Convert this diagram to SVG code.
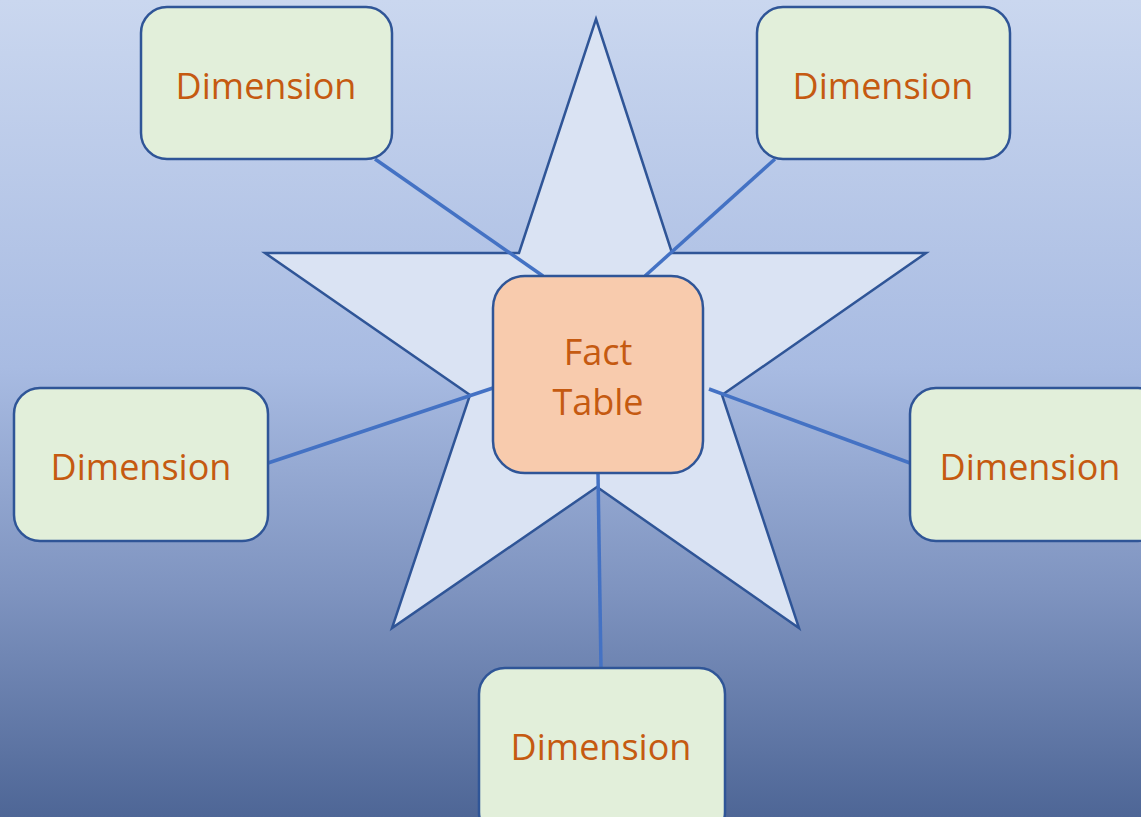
<svg xmlns="http://www.w3.org/2000/svg" width="1141" height="817" viewBox="0 0 1141 817">
<defs>
<linearGradient id="bg" x1="0" y1="0" x2="0" y2="1">
<stop offset="0" stop-color="#CAD7EF"/>
<stop offset="0.45" stop-color="#A8BBE2"/>
<stop offset="0.72" stop-color="#7F94C0"/>
<stop offset="1" stop-color="#4E6696"/>
</linearGradient>
<style>
.dim{fill:#E2EFDA;stroke:#2F5597;stroke-width:2.5}
.fact{fill:#F8CBAD;stroke:#2F5597;stroke-width:2.5}
.lbl{font-family:"Open Sans","Noto Sans",sans-serif;font-size:36px;fill:#C55A11;text-anchor:middle}
.con{stroke:#4472C4;stroke-width:3.5;fill:none}
.star{fill:#DAE3F3;stroke:#2F5597;stroke-width:2.5;stroke-linejoin:miter}
</style>
</defs>
<rect x="0" y="0" width="1141" height="817" fill="url(#bg)"/>
<g id="star">
<polygon class="star" points="596,19 672,253 926,253 722,395 799,628 597,487 392,628 470,395 265,253 519,253"/>
</g>
<g id="connectors">
<line class="con" x1="375" y1="159" x2="543" y2="276"/>
<line class="con" x1="775" y1="159" x2="645" y2="276"/>
<line class="con" x1="268" y1="463" x2="493" y2="388"/>
<line class="con" x1="709" y1="389" x2="910" y2="463"/>
<line class="con" x1="598" y1="473" x2="601" y2="668"/>
</g>
<g id="fact">
<rect class="fact" x="493" y="276" width="210" height="197" rx="32"/>
<text class="lbl" x="598" y="365">Fact</text>
<text class="lbl" x="598" y="415">Table</text>
</g>
<g id="dim-top-left">
<rect class="dim" x="141" y="7" width="251" height="152" rx="26"/>
<text class="lbl" x="266" y="99">Dimension</text>
</g>
<g id="dim-top-right">
<rect class="dim" x="757" y="7" width="253" height="152" rx="26"/>
<text class="lbl" x="883" y="99">Dimension</text>
</g>
<g id="dim-left">
<rect class="dim" x="14" y="388" width="254" height="153" rx="26"/>
<text class="lbl" x="141" y="480">Dimension</text>
</g>
<g id="dim-right">
<rect class="dim" x="910" y="388" width="254" height="153" rx="26"/>
<text class="lbl" x="1030" y="480">Dimension</text>
</g>
<g id="dim-bottom">
<rect class="dim" x="479" y="668" width="246" height="170" rx="26"/>
<text class="lbl" x="601" y="760">Dimension</text>
</g>
</svg>
